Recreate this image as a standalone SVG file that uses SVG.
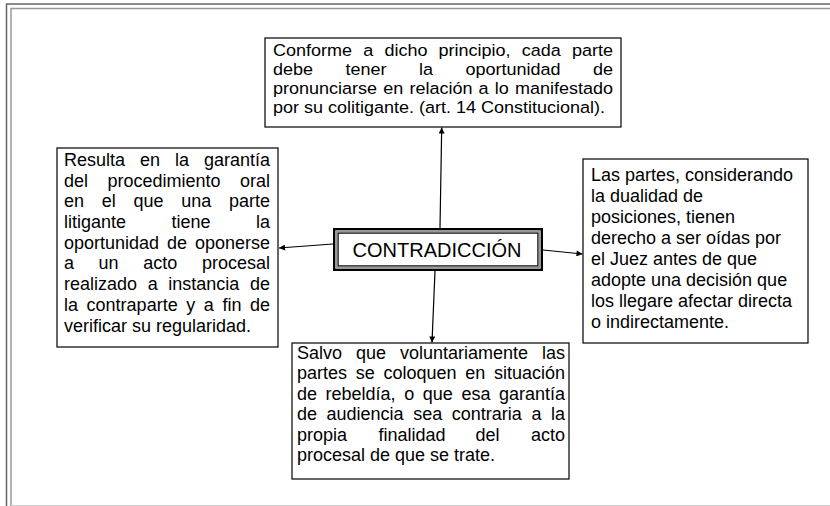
<svg xmlns="http://www.w3.org/2000/svg" width="830" height="506" viewBox="0 0 830 506">
<style>
.box{fill:#fff;stroke:#000;stroke-width:1.2}
.t{font-family:"Liberation Sans",Arial,sans-serif;fill:#000}
.title{font-family:"Liberation Sans",Arial,sans-serif;font-size:20px;fill:#000}
.conn{stroke:#000;stroke-width:1.2;fill:none;marker-end:url(#arr)}
</style>
<defs>
<marker id="arr" viewBox="0 0 10 10" refX="10" refY="5" markerWidth="7" markerHeight="6" markerUnits="userSpaceOnUse" orient="auto">
<path d="M0,0 L10,5 L0,10 z" fill="#000"/>
</marker>
</defs>
<rect width="830" height="506" fill="#fff"/>
<g id="frame">
<path d="M6.5,506 V4 H830" fill="none" stroke="#666" stroke-width="1.5"/>
<path d="M11,506 V8.5 H830" fill="none" stroke="#999" stroke-width="1.5"/>
<path d="M11,505.5 H830" stroke="#ccc" stroke-width="1"/>
</g>
<g id="connectors">
<line class="conn" x1="440" y1="228" x2="441.7" y2="127.5"/>
<line class="conn" x1="333" y1="244" x2="279" y2="248"/>
<line class="conn" x1="543" y1="250" x2="582.5" y2="254"/>
<line class="conn" x1="435" y1="271" x2="432" y2="342.5"/>
</g>
<g id="top">
<rect class="box" x="265" y="38" width="356" height="89"/>
<text class="t" font-size="17" transform="scale(1.0588,1)">
<tspan x="257.83" y="56">Conforme</tspan><tspan x="343.02" y="56">a</tspan><tspan x="363.04" y="56">dicho</tspan><tspan x="414.23" y="56">principio,</tspan><tspan x="492.81" y="56">cada</tspan><tspan x="540.22" y="56">parte</tspan>
<tspan x="257.83" y="75">debe</tspan><tspan x="326.31" y="75">tener</tspan><tspan x="395.72" y="75">la</tspan><tspan x="439.64" y="75">oportunidad</tspan><tspan x="560.06" y="75">de</tspan>
<tspan x="257.83" y="94">pronunciarse</tspan><tspan x="361.91" y="94">en</tspan><tspan x="386.66" y="94">relación</tspan><tspan x="452.01" y="94">a</tspan><tspan x="467.31" y="94">lo</tspan><tspan x="486.39" y="94">manifestado</tspan>
<tspan x="257.83" y="113">por su colitigante. (art. 14 Constitucional).</tspan>
</text>
</g>
<g id="left">
<rect class="box" x="57" y="148" width="221" height="199"/>
<text class="t" font-size="18.5" transform="scale(0.97297,1)">
<tspan x="65.78" y="166">Resulta</tspan><tspan x="143.89" y="166">en</tspan><tspan x="179.86" y="166">la</tspan><tspan x="209.67" y="166">garantía</tspan>
<tspan x="65.78" y="186.7">del</tspan><tspan x="110.49" y="186.7">procedimiento</tspan><tspan x="246.67" y="186.7">oral</tspan>
<tspan x="65.78" y="207.4">en</tspan><tspan x="104.53" y="207.4">el</tspan><tspan x="137.21" y="207.4">que</tspan><tspan x="186.23" y="207.4">una</tspan><tspan x="235.36" y="207.4">parte</tspan>
<tspan x="65.78" y="228.1">litigante</tspan><tspan x="176.26" y="228.1">tiene</tspan><tspan x="263.11" y="228.1">la</tspan>
<tspan x="65.78" y="248.8">oportunidad</tspan><tspan x="171.64" y="248.8">de</tspan><tspan x="200.42" y="248.8">oponerse</tspan>
<tspan x="65.78" y="269.5">a</tspan><tspan x="101.34" y="269.5">un</tspan><tspan x="147.28" y="269.5">acto</tspan><tspan x="207.61" y="269.5">procesal</tspan>
<tspan x="65.78" y="290.2">realizado</tspan><tspan x="151.8" y="290.2">a</tspan><tspan x="172.98" y="290.2">instancia</tspan><tspan x="256.94" y="290.2">de</tspan>
<tspan x="65.78" y="310.9">la</tspan><tspan x="89.01" y="310.9">contraparte</tspan><tspan x="191.37" y="310.9">y</tspan><tspan x="209.46" y="310.9">a</tspan><tspan x="228.58" y="310.9">fin</tspan><tspan x="256.94" y="310.9">de</tspan>
<tspan x="65.78" y="331.6">verificar su regularidad.</tspan>
</text>
</g>
<g id="right">
<rect class="box" x="583" y="159" width="225" height="184"/>
<text class="t" font-size="18.5" transform="scale(0.97297,1)">
<tspan x="607.42" y="181">Las partes, considerando</tspan>
<tspan x="607.42" y="202">la dualidad de</tspan>
<tspan x="607.42" y="223">posiciones, tienen</tspan>
<tspan x="607.42" y="244">derecho a ser oídas por</tspan>
<tspan x="607.42" y="265">el Juez antes de que</tspan>
<tspan x="607.42" y="286">adopte una decisión que</tspan>
<tspan x="607.42" y="307">los llegare afectar directa</tspan>
<tspan x="607.42" y="328">o indirectamente.</tspan>
</text>
</g>
<g id="bottom">
<rect class="box" x="292" y="343" width="277" height="136"/>
<text class="t" font-size="18.3" transform="scale(0.98361,1)">
<tspan x="301.95" y="359">Salvo</tspan><tspan x="361.93" y="359">que</tspan><tspan x="406.67" y="359">voluntariamente</tspan><tspan x="551.03" y="359">las</tspan>
<tspan x="301.95" y="379.5">partes</tspan><tspan x="361.63" y="379.5">se</tspan><tspan x="389.89" y="379.5">coloquen</tspan><tspan x="472.95" y="379.5">en</tspan><tspan x="502.23" y="379.5">situación</tspan>
<tspan x="301.95" y="400">de</tspan><tspan x="331.03" y="400">rebeldía,</tspan><tspan x="410.94" y="400">o</tspan><tspan x="429.85" y="400">que</tspan><tspan x="469.09" y="400">esa</tspan><tspan x="507.32" y="400">garantía</tspan>
<tspan x="301.95" y="420.5">de</tspan><tspan x="332.04" y="420.5">audiencia</tspan><tspan x="420.09" y="420.5">sea</tspan><tspan x="459.33" y="420.5">contraria</tspan><tspan x="540.26" y="420.5">a</tspan><tspan x="560.18" y="420.5">la</tspan>
<tspan x="301.95" y="441">propia</tspan><tspan x="384.91" y="441">finalidad</tspan><tspan x="483.32" y="441">del</tspan><tspan x="539.85" y="441">acto</tspan>
<tspan x="301.95" y="461.5">procesal de que se trate.</tspan>
</text>
</g>
<g id="center">
<rect x="334.2" y="229.2" width="207.6" height="40.6" fill="#fff" stroke="#000" stroke-width="2.4"/>
<rect x="336.4" y="231.4" width="203.2" height="36.2" fill="none" stroke="#999" stroke-width="2"/>
<rect x="338.1" y="233.1" width="199.8" height="32.8" fill="none" stroke="#000" stroke-width="1.2"/>
<text class="title" x="437" y="257.3" text-anchor="middle">CONTRADICCIÓN</text>
</g>
</svg>
